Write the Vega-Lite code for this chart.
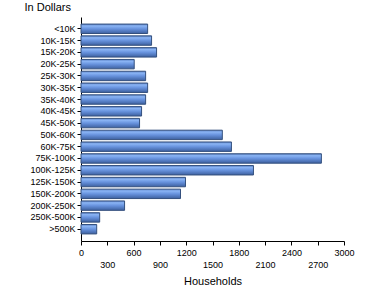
{
  "$schema": "https://vega.github.io/schema/vega-lite/v6.json",
  "autosize": {"type": "none"},
  "width": 263,
  "height": 224,
  "padding": {"left": 81, "top": 17, "right": 26, "bottom": 59},
  "background": "white",
  "config": {
    "view": {"stroke": null},
    "font": "Liberation Sans",
    "axis": {"domainColor": "#000000", "tickColor": "#000000", "labelColor": "#000000", "titleColor": "#000000", "grid": false, "titleFontWeight": "normal", "labelFont": "Liberation Sans", "titleFont": "Liberation Sans"}
  },
  "data": {
    "values": [
      {"income": "<10K", "households": 760},
      {"income": "10K-15K", "households": 805},
      {"income": "15K-20K", "households": 862},
      {"income": "20K-25K", "households": 607},
      {"income": "25K-30K", "households": 737},
      {"income": "30K-35K", "households": 760},
      {"income": "35K-40K", "households": 737},
      {"income": "40K-45K", "households": 691},
      {"income": "45K-50K", "households": 668},
      {"income": "50K-60K", "households": 1612},
      {"income": "60K-75K", "households": 1716},
      {"income": "75K-100K", "households": 2742},
      {"income": "100K-125K", "households": 1967},
      {"income": "125K-150K", "households": 1192},
      {"income": "150K-200K", "households": 1135},
      {"income": "200K-250K", "households": 497},
      {"income": "250K-500K", "households": 213},
      {"income": ">500K", "households": 179}
    ]
  },
  "mark": {
    "type": "bar",
    "fill": {
      "gradient": "linear", "x1": 0, "y1": 0, "x2": 0, "y2": 1,
      "stops": [
        {"offset": 0, "color": "#5a80c4"},
        {"offset": 0.2, "color": "#8ab4f4"},
        {"offset": 0.5, "color": "#6893de"},
        {"offset": 1, "color": "#3d609f"}
      ]
    },
    "stroke": "#34507e",
    "strokeWidth": 1
  },
  "encoding": {
    "y": {
      "field": "income",
      "type": "nominal",
      "sort": null,
      "scale": {"paddingInner": 0.2, "paddingOuter": 0.6},
      "axis": {
        "title": "In Dollars",
        "titleAngle": 0,
        "titleAlign": "left",
        "titleBaseline": "alphabetic",
        "titleX": -57,
        "titleY": -7,
        "titleFontSize": 11,
        "labelFontSize": 9,
        "tickSize": 4,
        "labelPadding": 2
      }
    },
    "x": {
      "field": "households",
      "type": "quantitative",
      "scale": {"domain": [0, 3000], "nice": false},
      "axis": {
        "title": "Households",
        "titleFontSize": 11,
        "titleBaseline": "middle",
        "titleY": 40,
        "format": "d",
        "values": [0, 300, 600, 900, 1200, 1500, 1800, 2100, 2400, 2700, 3000],
        "labelFontSize": 9,
        "labelFlush": false,
        "labelOverlap": false,
        "tickSize": 4,
        "labelPadding": {"condition": {"test": "datum.value % 600 === 0", "value": 3}, "value": 15}
      }
    }
  }
}
